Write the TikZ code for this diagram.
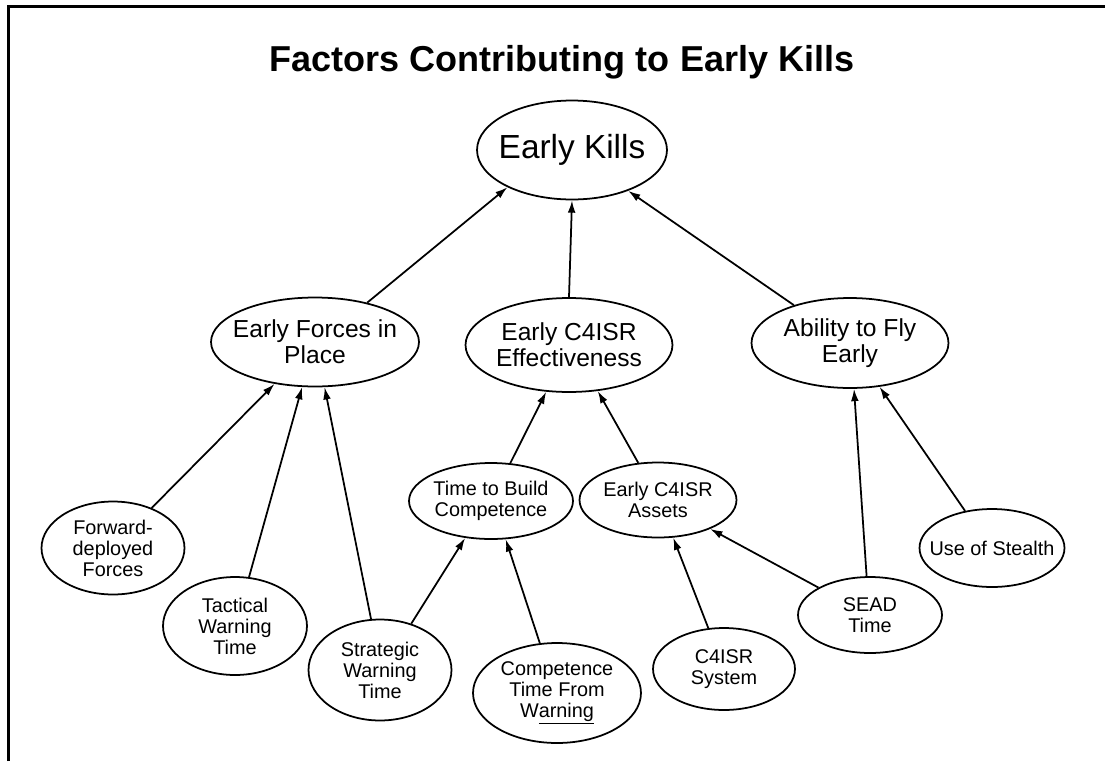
\documentclass[tikz,border=0pt]{standalone}
\usepackage{fontspec}
\setmainfont{Liberation Sans}
\usepackage{tikz}
\usetikzlibrary{arrows.meta, positioning, shapes.geometric}

\begin{document}
\begin{tikzpicture}[x=0.02cm, y=-0.02cm, line width=1pt,
        factor/.style={draw, ellipse, align=center, inner sep=-8pt},
        midf/.style={factor, font=\fontsize{14}{15}\selectfont},
        lowf/.style={factor, font=\fontsize{11.3}{12}\selectfont},
        link/.style={-{Latex[length=7pt, width=4.4pt]}}]
      \useasboundingbox (0,0) rectangle (1105,761);
      \draw[line width=1.7pt] (8.5,761) -- (8.5,6.5) -- (1105,6.5);
      % top
      \node[factor, font=\fontsize{19}{21}\selectfont,
            minimum width=3.8cm, minimum height=1.98cm] (ek) at (572,150) {Early Kills};
      \node[above=0.4cm of ek, xshift=-0.2cm, inner sep=0pt,
            font=\fontsize{20.5}{24}\selectfont\bfseries] (title)
        {Factors Contributing to Early Kills};
      % middle row
      \node[midf, minimum width=4.16cm, minimum height=1.78cm] (efp) at (315,342)
        {Early Forces in\\Place};
      \node[midf, minimum width=4.14cm, minimum height=1.88cm] (ece) at (569,345)
        {Early C4ISR\\Effectiveness};
      \node[midf, minimum width=3.94cm, minimum height=1.80cm] (afe) at (850,343)
        {Ability to Fly\\Early};
      % lower rows
      \node[lowf, minimum width=3.28cm, minimum height=1.52cm] (tbc) at (491,501)
        {Time to Build\\Competence};
      \node[lowf, minimum width=3.14cm, minimum height=1.50cm] (eca) at (658,500)
        {Early C4ISR\\Assets};
      \node[lowf, minimum width=2.86cm, minimum height=1.86cm] (fdf) at (113,548)
        {Forward-\\deployed\\Forces};
      \node[lowf, minimum width=2.88cm, minimum height=1.96cm] (twt) at (235,626)
        {Tactical\\Warning\\Time};
      \node[lowf, minimum width=2.86cm, minimum height=2.02cm] (swt) at (380,670)
        {Strategic\\Warning\\Time};
      \node[lowf, minimum width=3.36cm, minimum height=2.00cm] (ctw) at (557,693)
        {Competence\\Time From\\W\underline{arning}};
      \node[lowf, minimum width=2.84cm, minimum height=1.64cm] (c4s) at (724,669)
        {C4ISR\\System};
      \node[lowf, minimum width=2.88cm, minimum height=1.52cm] (sead) at (870,615)
        {SEAD\\Time};
      \node[lowf, minimum width=2.90cm, minimum height=1.56cm] (uos) at (992,548)
        {Use of Stealth};
      % links
      \draw[link] (efp.37) -- (ek.210);
      \draw[link] (ece.north) -- (ek.south);
      \draw[link] (afe.146) -- (ek.324);
      \draw[link] (fdf.46) -- (efp.226);
      \draw[link] (twt.74) -- (efp.254);
      \draw[link] (swt.100) -- (efp.282);
      \draw[link] (tbc.63) -- (ece.244);
      \draw[link] (eca.118) -- (ece.302);
      \draw[link] (swt.56) -- (tbc.235);
      \draw[link] (ctw.109) -- (tbc.291);
      \draw[link] (c4s.111) -- (eca.292);
      \draw[link] (sead.152) -- (eca.331);
      \draw[link] (sead.95) -- (afe.275);
      \draw[link] (uos.126) -- (afe.304);
    \end{tikzpicture}
\end{document}
